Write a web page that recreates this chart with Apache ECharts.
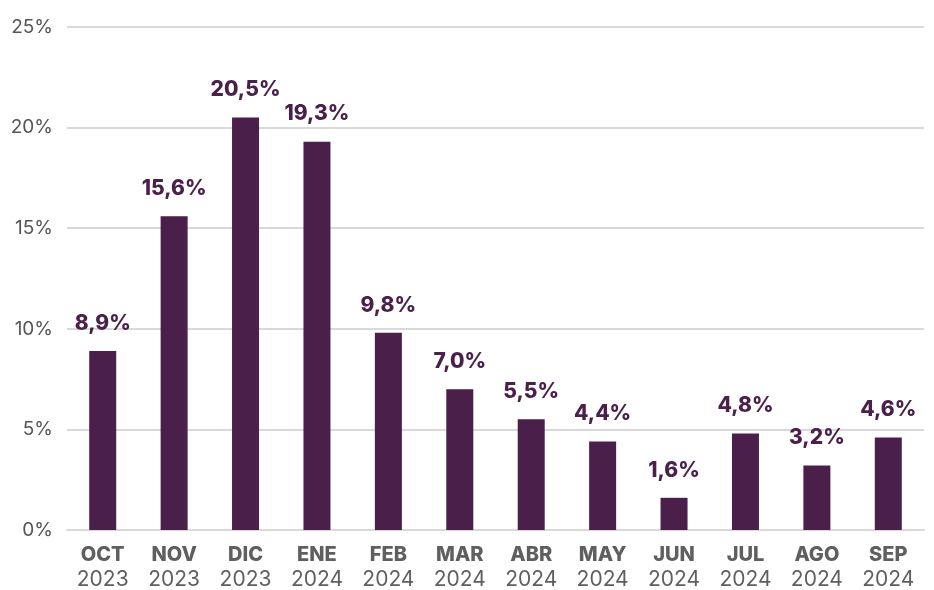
<!DOCTYPE html>
<html><head><meta charset="utf-8">
<script src="https://cdn.jsdelivr.net/npm/echarts@6/dist/echarts.min.js"></script>
<style>html,body{margin:0;padding:0;background:#fff}#c{width:934px;height:590px}</style>
</head><body><div id="c"></div>
<script>
const months = ['OCT','NOV','DIC','ENE','FEB','MAR','ABR','MAY','JUN','JUL','AGO','SEP'];
const years = ['2023','2023','2023','2024','2024','2024','2024','2024','2024','2024','2024','2024'];
const values = [8.9,15.6,20.5,19.3,9.8,7.0,5.5,4.4,1.6,4.8,3.2,4.6];
const yTicks = [0,5,10,15,20,25];

const categories = months.map((m,i)=>m+'\n'+years[i]);
const chart = echarts.init(document.getElementById('c'));
chart.setOption({
  animation:false,
  grid:{left:67,right:10,top:27,bottom:58},
  xAxis:{type:'category',data:categories,
    axisLine:{lineStyle:{color:'#d9d9d9',width:2}},axisTick:{show:false},
    axisLabel:{margin:12,interval:0,formatter:(v)=>{const p=v.split('\n');return '{m|'+p[0]+'}\n{y|'+p[1]+'}';},
      rich:{m:{fontFamily:'Inter',fontWeight:800,fontSize:20,color:'#5f5f5f',lineHeight:25},
            y:{fontFamily:'Inter',fontSize:21,color:'#5f5f5f',lineHeight:25}}}},
  yAxis:{type:'value',min:yTicks[0],max:yTicks[yTicks.length-1],interval:5,
    axisLabel:{formatter:'{value}%',fontFamily:'Inter',fontSize:19,color:'#555',margin:14},
    splitLine:{lineStyle:{color:'#d9d9d9',width:2}}},
  series:[{type:'bar',data:values,barWidth:27,itemStyle:{color:'#4a1f4a'},
    label:{show:true,position:'top',distance:17,formatter:(p)=>p.value.toFixed(1).replace('.',',')+'%',
      fontFamily:'Inter',fontWeight:800,fontSize:21,color:'#4a1f4a'}}]
});
</script></body></html>
